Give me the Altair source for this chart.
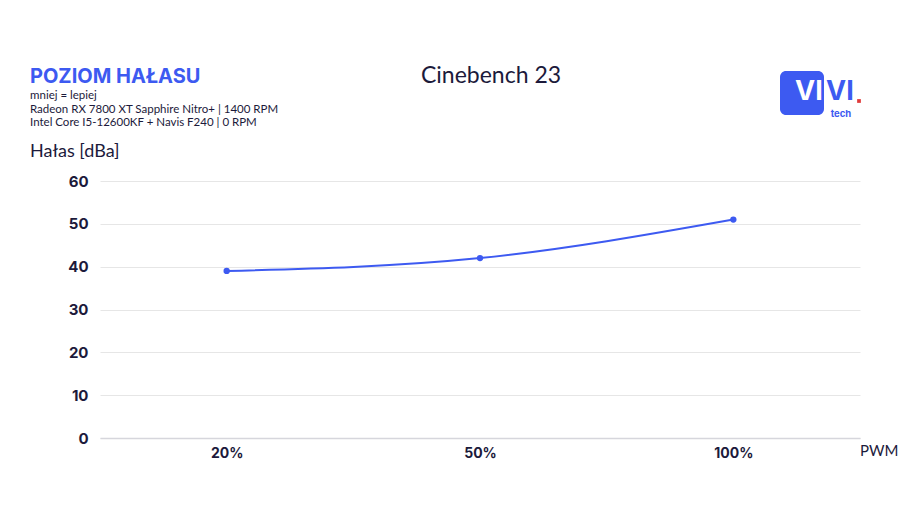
import altair as alt
import pandas as pd

pwm = ["20%", "50%", "100%"]
noise = [39, 42, 51]
y_ticks = [0, 10, 20, 30, 40, 50, 60]

BLUE = "#3d5af1"
DARK = "#1c1a3b"

df = pd.DataFrame({"pwm": pwm, "noise": noise})

x_enc = alt.X("pwm:N", sort=pwm, title=None,
              scale=alt.Scale(paddingInner=0, paddingOuter=0),
              axis=alt.Axis(labelAngle=0, labelFont="Inter", labelFontWeight="bold",
                            labelFontSize=14, labelColor=DARK, labelPadding=8,
                            ticks=False, domainColor="#d6d6dc", domainWidth=1.5,
                            grid=False))
y_enc = alt.Y("noise:Q", title=None,
              scale=alt.Scale(domain=[0, 60]),
              axis=alt.Axis(values=y_ticks, labelFont="Inter", labelFontWeight="bold",
                            labelFontSize=15, labelColor=DARK, labelPadding=12,
                            ticks=False, domain=False, gridColor="#e6e6e6"))

line = alt.Chart(df).mark_line(color=BLUE, strokeWidth=2, interpolate="monotone",
                               point=alt.OverlayMarkDef(color=BLUE, size=40, filled=True, opacity=1)
                               ).encode(x=x_enc, y=y_enc)


def txt(t, x, y, size, color=DARK, weight="normal", align="left", font="Lato", baseline="middle"):
    return alt.Chart(pd.DataFrame({"t": [t]})).mark_text(
        align=align, baseline=baseline, fontSize=size, color=color,
        fontWeight=weight, font=font).encode(x=alt.value(x), y=alt.value(y), text="t:N")


X0, Y0 = 100, 181  # plot origin on page

layers = [
    line,
    txt("Cinebench 23", 491 - X0, 76 - Y0, 23, align="center", font="Lato"),
    txt("POZIOM HAŁASU", 30 - X0, 77 - Y0, 20, color=BLUE, weight="bold", font="Inter"),
    txt("mniej = lepiej", 30 - X0, 96 - Y0, 11.5),
    txt("Radeon RX 7800 XT Sapphire Nitro+ | 1400 RPM", 30 - X0, 109.5 - Y0, 11.5),
    txt("Intel Core I5-12600KF + Navis F240 | 0 RPM", 30 - X0, 123 - Y0, 11.5),
    txt("Hałas [dBa]", 30 - X0, 152 - Y0, 18),
    txt("PWM", 860 - X0, 451 - Y0, 15),
]

logo_rect = alt.Chart(pd.DataFrame({"a": [1]})).mark_rect(
    color=BLUE, cornerRadius=6).encode(
    x=alt.value(780 - X0), x2=alt.value(824 - X0),
    y=alt.value(71 - Y0), y2=alt.value(115 - Y0))
layers.append(logo_rect)
layers.append(txt("VI", 795 - X0, 92 - Y0, 27, color="white", weight="bold", font="Inter"))
layers.append(txt("VI", 826 - X0, 92 - Y0, 27, color=BLUE, weight="bold", font="Inter"))
layers.append(txt("tech", 841 - X0, 114 - Y0, 9.5, color=BLUE, weight="bold", align="center", font="Inter"))
layers.append(alt.Chart(pd.DataFrame({"a": [1]})).mark_square(
    color="#e03a3a", size=14, opacity=1).encode(x=alt.value(859 - X0), y=alt.value(101 - Y0)))

chart = alt.layer(*layers).properties(
    width=760, height=257,
    padding={"left": 92, "top": 173, "right": 53, "bottom": 72},
    autosize=alt.AutoSizeParams(type="none"),
    background="white",
).configure_view(stroke=None)

chart.save("out.html", embed_options={"renderer": "svg", "actions": False})
